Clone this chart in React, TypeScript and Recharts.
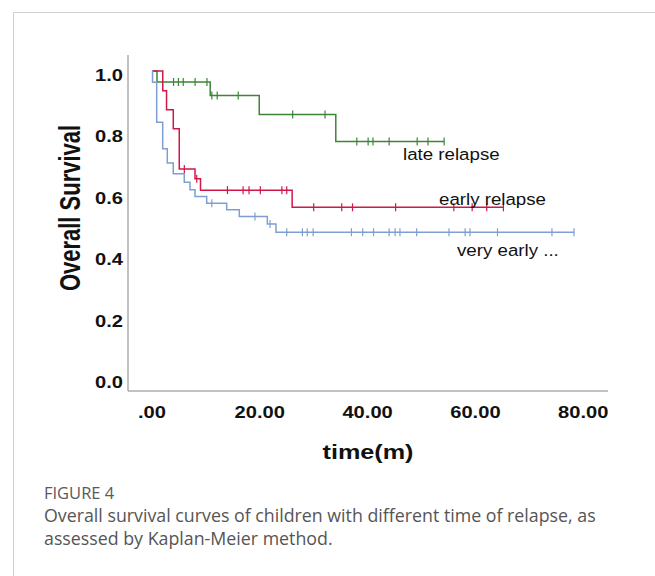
import { ComposedChart, Line, Scatter, XAxis, YAxis } from "recharts";

/* ---------- Data ---------- */

const xTicks = [0, 20, 40, 60, 80];
const yTicks = [0, 0.2, 0.4, 0.6, 0.8, 1.0];

// late relapse
const lateTimes = [0, 0.93, 10.8, 19.9, 34.1, 54.2];
const lateSurv = [1.0, 0.964, 0.92, 0.858, 0.77, 0.77];
const lateCensor = [4.0, 4.9, 5.8, 8.0, 10.2, 11.1, 12.1, 16.0, 26.1, 32.1, 38.0, 40.1, 41.0, 44.0, 49.2, 51.2, 54.2];

// early relapse
const earlyTimes = [0, 2.0, 2.7, 3.95, 5.06, 7.98, 9.0, 26.0, 65.2];
const earlySurv = [1.0, 0.936, 0.874, 0.812, 0.681, 0.649, 0.612, 0.556, 0.556];
const earlyCensor = [6.0, 8.3, 14.0, 16.9, 18.0, 20.1, 24.1, 25.0, 30.0, 35.2, 37.2, 45.2, 56.0, 59.4, 62.1, 65.2];

// very early relapse
const veryTimes = [0, 0.1, 0.87, 1.99, 2.84, 3.95, 5.99, 7.05, 7.98, 10.15, 13.86, 16.2, 21.4, 23.0, 78.3];
const verySurv = [1.0, 0.963, 0.833, 0.747, 0.7, 0.665, 0.638, 0.613, 0.591, 0.569, 0.548, 0.526, 0.502, 0.475, 0.475];
const veryCensor = [11.1, 19.1, 21.9, 25.0, 27.9, 28.8, 29.9, 37.0, 39.1, 41.1, 44.0, 45.1, 46.0, 49.1, 55.1, 58.1, 59.0, 64.1, 74.2, 78.3];

/* ---------- Helpers ---------- */

type Pt = { t: number; s: number };

const steps = (times: number[], surv: number[]): Pt[] =>
  times.map((t, i) => ({ t, s: surv[i] }));

// survival value of the step curve at a censoring time
const marks = (times: number[], surv: number[], censor: number[]): Pt[] =>
  censor.map((c) => {
    let s = surv[0];
    times.forEach((t, i) => {
      if (t <= c) s = surv[i];
    });
    return { t: c, s };
  });

const GREEN = "#3d8537";
const RED = "#cf1848";
const BLUE = "#7f9fd3";
const AXIS = "#858585";
const FONT = "'Liberation Sans', Arial, sans-serif";

const censorShape = (color: string) => (p: any) =>
  <line x1={p.cx} x2={p.cx} y1={p.cy - 4} y2={p.cy + 4} stroke={color} strokeWidth={1.2} />;

const XTick = ({ x, y, payload }: any) => (
  <text transform={`translate(${x} ${y + 27}) scale(1.22 1)`} textAnchor="middle" fontFamily={FONT} fontWeight="bold" fontSize={16.5} fill="#111">
    {payload.value === 0 ? ".00" : payload.value.toFixed(2)}
  </text>
);

const YTick = ({ x, y, payload }: any) => (
  <text transform={`translate(${x - 5} ${y + 10}) scale(1.22 1)`} textAnchor="end" fontFamily={FONT} fontWeight="bold" fontSize={16.5} fill="#111">
    {payload.value.toFixed(1)}
  </text>
);

/* ---------- Component ---------- */

export default function App() {
  const series = [
    { name: "late", color: GREEN, line: steps(lateTimes, lateSurv), cens: marks(lateTimes, lateSurv, lateCensor) },
    { name: "early", color: RED, line: steps(earlyTimes, earlySurv), cens: marks(earlyTimes, earlySurv, earlyCensor) },
    { name: "very", color: BLUE, line: steps(veryTimes, verySurv), cens: marks(veryTimes, verySurv, veryCensor) },
  ];

  return (
    <div style={{ position: "absolute", left: 0, top: 0, width: 655, height: 576, background: "#fff" }}>
      {/* card border */}
      <div style={{ position: "absolute", left: 13, top: 12, right: 0, bottom: 0, borderTop: "1px solid #cfcfcf", borderLeft: "1px solid #cfcfcf" }} />

      <div style={{ position: "absolute", left: 0, top: 0 }}>
        <ComposedChart width={655} height={576} margin={{ top: 55, right: 47, bottom: 155, left: 68 }}>
          <XAxis
            dataKey="t"
            type="number"
            domain={[-4.45, 84.6]}
            allowDataOverflow
            ticks={xTicks}
            tickLine={false}
            tickSize={0}
            tickMargin={0}
            height={30}
            stroke={AXIS}
            tick={XTick}
          />
          <YAxis
            type="number"
            domain={[-0.042, 1.052]}
            allowDataOverflow
            ticks={yTicks}
            tickLine={false}
            tickSize={0}
            tickMargin={0}
            width={60}
            stroke={AXIS}
            tick={YTick}
          />
          {series.map((d) => (
            <Line
              key={d.name + "-line"}
              data={d.line}
              dataKey="s"
              type="stepAfter"
              stroke={d.color}
              strokeWidth={1.5}
              dot={false}
              isAnimationActive={false}
            />
          ))}
          {series.map((d) => (
            <Scatter
              key={d.name + "-cens"}
              data={d.cens}
              dataKey="s"
              shape={censorShape(d.color)}
              isAnimationActive={false}
            />
          ))}
        </ComposedChart>
      </div>

      <svg width={655} height={576} style={{ position: "absolute", left: 0, top: 0, pointerEvents: "none" }}>
        <text transform="translate(70 208) rotate(-90) scale(1 1.3)" x={0} y={8} textAnchor="middle"
          fontFamily={FONT} fontWeight="bold" fontSize={22} fill="#111">Overall Survival</text>
        <text transform="translate(368 459) scale(1.2 1)" x={0} y={0} textAnchor="middle"
          fontFamily={FONT} fontWeight="bold" fontSize={21} fill="#111">time(m)</text>
        <text transform="translate(403 160) scale(1.1 1)" fontFamily={FONT} fontSize={17} fill="#111">late relapse</text>
        <text transform="translate(439 205) scale(1.1 1)" fontFamily={FONT} fontSize={17} fill="#111">early relapse</text>
        <text transform="translate(457 256) scale(1.1 1)" fontFamily={FONT} fontSize={17} fill="#111">very early ...</text>
      </svg>

      <div style={{ position: "absolute", left: 44, top: 483, fontFamily: "'Open Sans', sans-serif", fontSize: 16.5, color: "#5a5a5a", lineHeight: "20px" }}>
        FIGURE 4
      </div>
      <div style={{ position: "absolute", left: 44, top: 504, width: 610, fontFamily: "'Open Sans', sans-serif", fontSize: 17.8, color: "#555", lineHeight: "23px" }}>
        Overall survival curves of children with different time of relapse, as
        <br />
        assessed by Kaplan-Meier method.
      </div>
    </div>
  );
}
